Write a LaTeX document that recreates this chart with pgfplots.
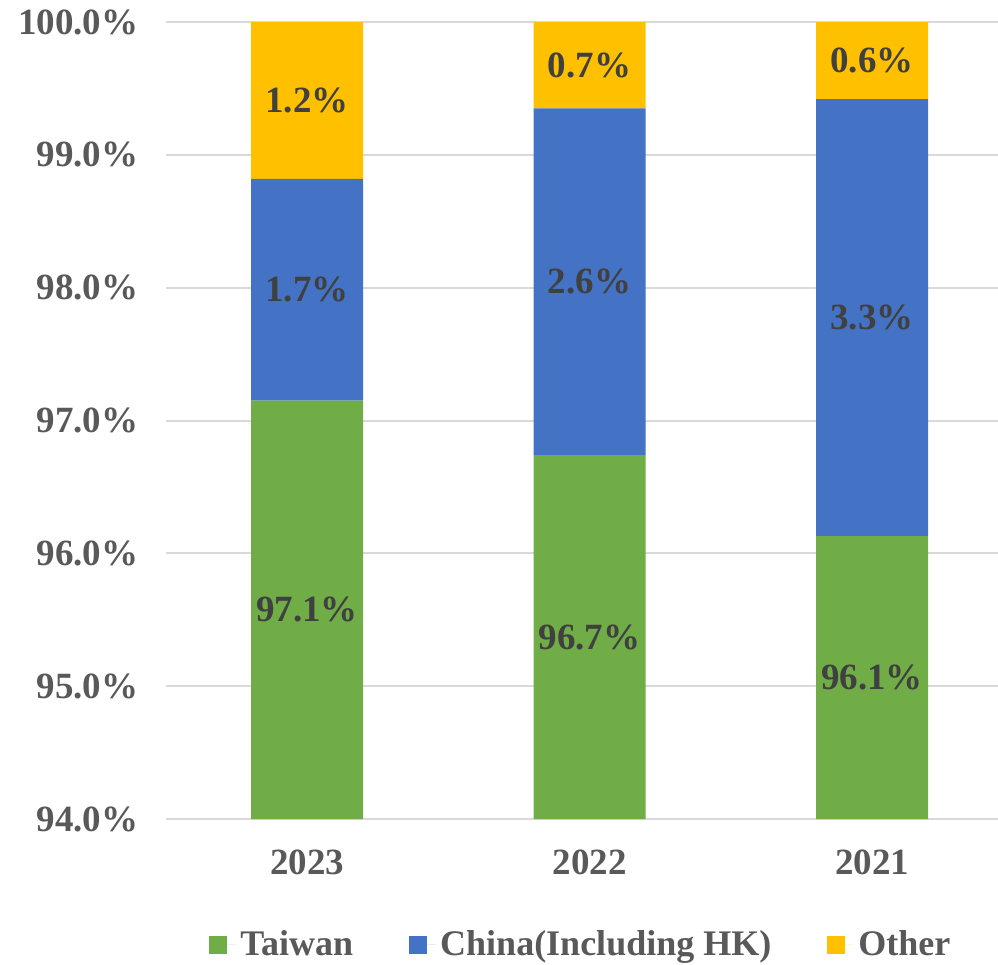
\documentclass[border=0pt]{standalone}
\usepackage{fontspec}
\setmainfont{Liberation Serif}
\usepackage{pgfplots}
\pgfplotsset{compat=1.18}
\definecolor{cgreen}{HTML}{70AD47}
\definecolor{cblue}{HTML}{4472C4}
\definecolor{cyellow}{HTML}{FFC000}
\definecolor{cgrid}{HTML}{D9D9D9}
\definecolor{ctick}{HTML}{595959}
\definecolor{clabel}{HTML}{404040}
\pgfplotstableread{
x taiwan china other
0 97.15 1.67 1.18
1 96.74 2.61 0.65
2 96.13 3.29 0.58
}\datatab
\pgfplotstableread{
x y label
0 95.575 97.1\%
1 95.37 96.7\%
2 95.065 96.1\%
0 97.985 1.7\%
1 98.045 2.6\%
2 97.775 3.3\%
0 99.41 1.2\%
1 99.675 0.7\%
2 99.71 0.6\%
}\labtab
\begin{document}
\begin{tikzpicture}
\begin{axis}[
  scale only axis, width=416.1pt, height=398.5pt,
  ybar stacked, bar width=56pt,
  xmin=-0.5, xmax=2.446, ymin=94, ymax=100,
  xtick={0,1,2}, xticklabels={2023,2022,2021},
  ytick={94,95,96,97,98,99,100},
  axis line style={draw=none},
  major tick length=0pt,
  ymajorgrids, grid style={cgrid, line width=1pt},
  /pgf/number format/assume math mode=true,
  yticklabel={\pgfmathprintnumber[fixed, fixed zerofill, precision=1]{\tick}\%},
  ticklabel style={font=\bfseries\fontsize{18.5}{22}\selectfont, text=ctick},
  yticklabel style={anchor=east, inner sep=0pt, xshift=-13.5pt},
  xticklabel style={anchor=north, inner sep=0pt, yshift=-15pt},
  legend style={at={(0.5,-0.158)}, anchor=center, legend columns=3, draw=none,
    font=\bfseries\fontsize{18}{22}\selectfont, text=ctick,
    /tikz/every even column/.append style={column sep=26pt}},
  legend image code/.code={\fill[#1, draw=none] (0pt,-4.5pt) rectangle (9pt,4.5pt); \path (9pt,0pt) -- (13.5pt,0pt);},
]
\addplot[fill=cgreen, draw=none] table[x=x, y=taiwan] {\datatab};
\addlegendentry{Taiwan}
\addplot[fill=cblue, draw=none] table[x=x, y=china] {\datatab};
\addlegendentry{China(Including HK)}
\addplot[fill=cyellow, draw=none] table[x=x, y=other] {\datatab};
\addlegendentry{Other}
\end{axis}
\begin{axis}[
  scale only axis, width=416.1pt, height=398.5pt,
  xmin=-0.5, xmax=2.446, ymin=94, ymax=100,
  axis lines=none, clip=false,
]
\addplot[sharp plot, draw=none, mark=none,
  nodes near coords, point meta=explicit symbolic,
  nodes near coords style={anchor=center, inner sep=0pt, text=clabel, font=\bfseries\fontsize{18.5}{22}\selectfont}]
  table[x=x, y=y, meta=label] {\labtab};
\end{axis}
\pgfresetboundingbox
\path[use as bounding box] (-82.9pt,-73pt) rectangle (416.1pt,409.5pt);
\end{tikzpicture}
\end{document}
